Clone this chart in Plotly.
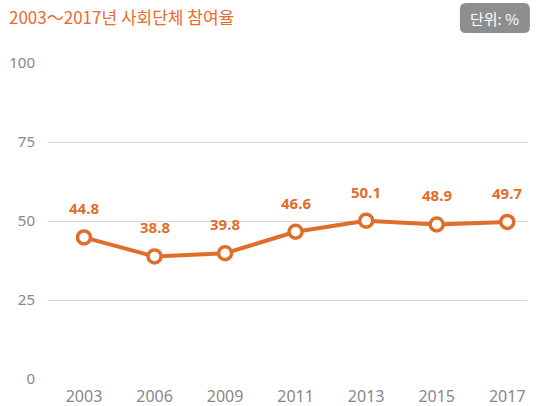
import plotly.graph_objects as go

years = ["2003", "2006", "2009", "2011", "2013", "2015", "2017"]
values = [44.8, 38.8, 39.8, 46.6, 50.1, 48.9, 49.7]
y_ticks = [0, 25, 50, 75, 100]
title_text = "2003～2017년 사회단체 참여율"
unit_text = "단위: %"

orange = "#E06E2A"
idx = list(range(len(years)))

fig = go.Figure()
fig.add_trace(go.Scatter(
    x=idx, y=values, mode="lines+markers",
    line=dict(color=orange, width=4),
    marker=dict(size=13, color="white", line=dict(color=orange, width=3.5)),
    hoverinfo="skip", showlegend=False,
))
for i, v in zip(idx, values):
    fig.add_annotation(x=i, y=v, text=f"<b>{v}</b>", showarrow=False, yshift=29,
                       font=dict(color=orange, size=15, family="Noto Sans"))

fig.add_annotation(xref="paper", yref="paper", x=-0.085, y=1.146, xanchor="left", yanchor="middle",
                   text=title_text, showarrow=False,
                   font=dict(color="#EB6A2E", size=17, family="Noto Sans CJK KR"))

fig.add_shape(type="path", xref="paper", yref="paper",
              path="M 0.860,1.171 Q 0.860,1.190 0.8725,1.190 L 0.9935,1.190 Q 1.006,1.190 1.006,1.171 L 1.006,1.114 Q 1.006,1.095 0.9935,1.095 L 0.8725,1.095 Q 0.860,1.095 0.860,1.114 Z",
              fillcolor="#8E8E90", line=dict(width=0))
fig.add_annotation(xref="paper", yref="paper", x=0.933, y=1.142, xanchor="center", yanchor="middle",
                   text=unit_text, showarrow=False,
                   font=dict(color="white", size=15, family="Noto Sans CJK KR"))

fig.update_layout(
    width=539, height=406,
    margin=dict(l=48, r=12, t=63, b=27),
    paper_bgcolor="white", plot_bgcolor="white",
    font=dict(family="Noto Sans", color="#888888"),
    xaxis=dict(range=[-0.51, 6.28], tickmode="array", tickvals=idx, ticktext=years,
               showgrid=False, zeroline=False, showline=False, automargin=False,
               tickfont=dict(size=16, color="#888888"), ticks="", ticklabelstandoff=6),
    yaxis=dict(range=[0, 100], tickvals=y_ticks, showgrid=True, gridcolor="#D6D6D6", gridwidth=1,
               zeroline=False, showline=False, ticks="", automargin=False,
               tickfont=dict(size=15, color="#888888"), ticklabelstandoff=12),
)

fig.write_html("out.html", config={"displayModeBar": False},
               post_script="document.body.style.margin='0';")
